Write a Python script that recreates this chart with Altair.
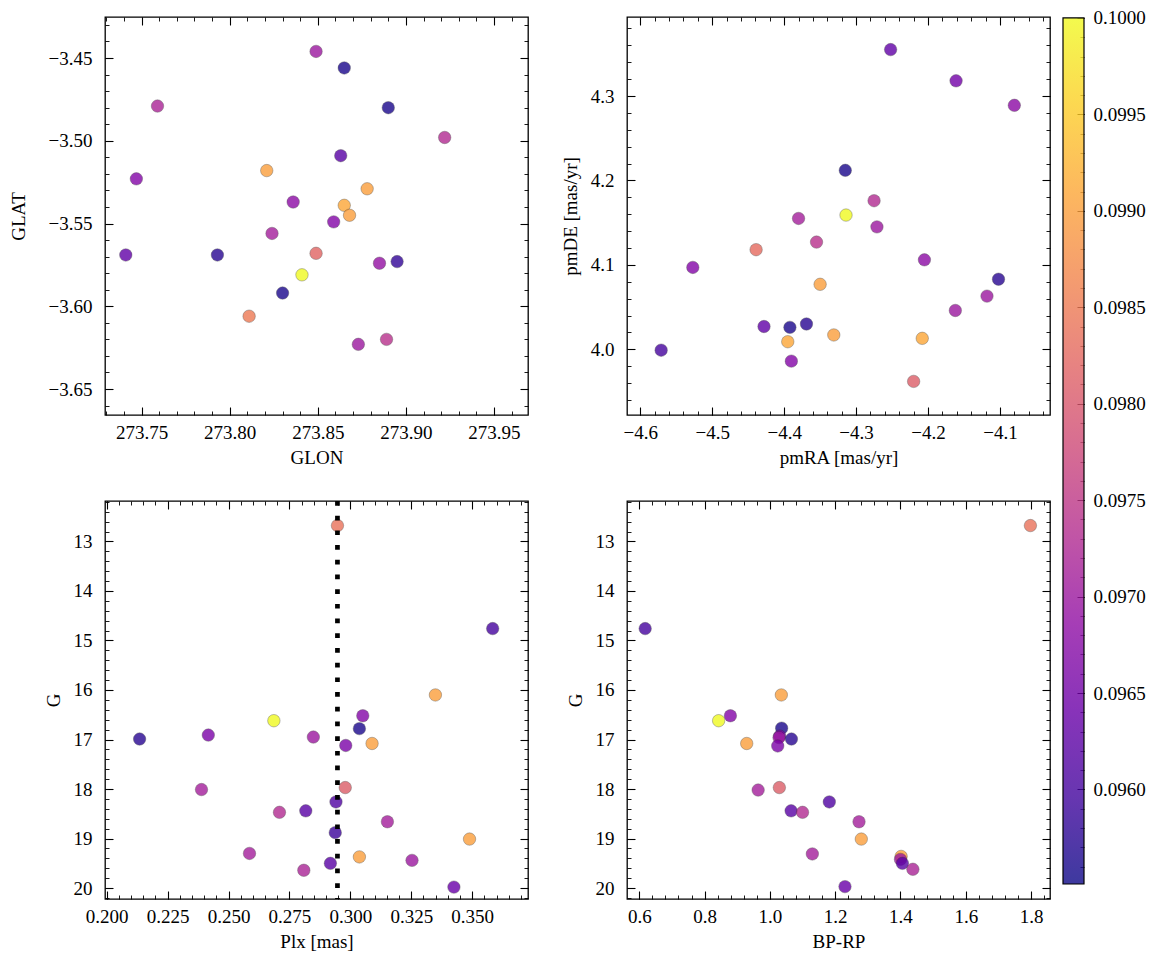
import altair as alt
import numpy as np
import pandas as pd

FONT = "Liberation Serif"
FS = 19

# ---------------- data ----------------
# top-left: sky position
glon = [273.849, 273.865, 273.759, 273.890, 273.922, 273.863, 273.747, 273.821,
        273.878, 273.836, 273.865, 273.868, 273.859, 273.824, 273.741, 273.793,
        273.849, 273.885, 273.895, 273.841, 273.830, 273.811, 273.873, 273.889]
glat = [-3.446, -3.456, -3.479, -3.480, -3.498, -3.509, -3.523, -3.518,
        -3.529, -3.537, -3.539, -3.545, -3.549, -3.556, -3.569, -3.569,
        -3.568, -3.574, -3.573, -3.581, -3.592, -3.606, -3.623, -3.620]
c_sky = [0.0970, 0.0956, 0.0972, 0.0956, 0.0973, 0.0962, 0.0967, 0.0990,
         0.0990, 0.0968, 0.0991, 0.0990, 0.0967, 0.0971, 0.0963, 0.0957,
         0.0982, 0.0969, 0.0958, 0.1000, 0.0956, 0.0985, 0.0970, 0.0974]

# top-right: proper motions
pmra = [-4.252, -4.161, -4.080, -4.315, -4.275, -4.314, -4.380, -4.271, -4.355,
        -4.439, -4.527, -4.205, -4.102, -4.350, -4.118, -4.162, -4.428, -4.392,
        -4.369, -4.331, -4.208, -4.395, -4.571, -4.390, -4.220]
pmde = [4.355, 4.318, 4.289, 4.212, 4.176, 4.159, 4.155, 4.145, 4.127,
        4.118, 4.097, 4.106, 4.083, 4.077, 4.063, 4.046, 4.027, 4.026,
        4.030, 4.017, 4.013, 4.009, 3.999, 3.986, 3.962]
c_pm = [0.0963, 0.0965, 0.0968, 0.0956, 0.0973, 0.1000, 0.0971, 0.0970, 0.0974,
        0.0983, 0.0967, 0.0968, 0.0957, 0.0990, 0.0970, 0.0970, 0.0963, 0.0956,
        0.0957, 0.0990, 0.0991, 0.0991, 0.0960, 0.0967, 0.0981]

# bottom-left: parallax vs G
plx = [0.2947, 0.3584, 0.3349, 0.3051, 0.2686, 0.3037, 0.2135, 0.2417, 0.2848,
       0.2981, 0.3089, 0.2979, 0.2389, 0.2941, 0.2817, 0.2709, 0.3152, 0.2938,
       0.3489, 0.3037, 0.2586, 0.3253, 0.2918, 0.2809, 0.3425]
g_plx = [12.68, 14.76, 16.10, 16.52, 16.62, 16.78, 16.99, 16.91, 16.95,
         17.12, 17.08, 17.97, 18.01, 18.26, 18.44, 18.47, 18.66, 18.88,
         19.01, 19.37, 19.30, 19.44, 19.50, 19.64, 19.98]
c_plx = [0.0984, 0.0960, 0.0990, 0.0967, 0.1000, 0.0956, 0.0957, 0.0966, 0.0970,
         0.0966, 0.0990, 0.0981, 0.0971, 0.0961, 0.0962, 0.0973, 0.0971, 0.0959,
         0.0990, 0.0990, 0.0971, 0.0970, 0.0962, 0.0972, 0.0964]
plx_line = 0.2947

# bottom-right: colour-magnitude diagram
bprp = [1.798, 0.618, 1.035, 0.879, 0.843, 1.036, 1.030, 1.028, 1.066, 1.024,
        0.929, 1.029, 0.964, 1.182, 1.065, 1.100, 1.273, 1.280, 1.130, 1.402,
        1.400, 1.406, 1.438, 1.230]
g_col = [12.68, 14.76, 16.10, 16.52, 16.62, 16.77, 16.93, 16.96, 16.99, 17.13,
         17.08, 17.97, 18.02, 18.26, 18.44, 18.47, 18.66, 19.01, 19.31, 19.36,
         19.42, 19.50, 19.62, 19.97]
c_col = [0.0984, 0.0960, 0.0990, 0.0967, 0.1000, 0.0956, 0.0966, 0.0970, 0.0957,
         0.0966, 0.0990, 0.0981, 0.0971, 0.0961, 0.0962, 0.0973, 0.0971, 0.0990,
         0.0971, 0.0990, 0.0970, 0.0962, 0.0972, 0.0964]

# axis ranges and tick labels
glon_dom, glat_dom = [273.7292, 273.9693], [-3.6657, -3.4252]
pmra_dom, pmde_dom = [-4.6185, -4.0304], [3.9222, 4.3936]
plx_dom, g_dom = [0.1993, 0.3729], [12.184, 20.22]
bprp_dom = [0.5623, 1.858]
c_dom = [0.09551, 0.1000]
c_view_dom = [0.09551, 0.100005]   # 1px headroom above the bar

glon_ticks = [273.75, 273.80, 273.85, 273.90, 273.95]
glat_ticks = [-3.65, -3.60, -3.55, -3.50, -3.45]
pmra_ticks = [-4.6, -4.5, -4.4, -4.3, -4.2, -4.1]
pmde_ticks = [4.0, 4.1, 4.2, 4.3]
plx_ticks = [0.200, 0.225, 0.250, 0.275, 0.300, 0.325, 0.350]
g_ticks = [13, 14, 15, 16, 17, 18, 19, 20]
bprp_ticks = [0.6, 0.8, 1.0, 1.2, 1.4, 1.6, 1.8]
c_ticks = [0.0960, 0.0965, 0.0970, 0.0975, 0.0980, 0.0985, 0.0990, 0.0995, 0.1000]

plasma_stops = ["#0d0887", "#41049d", "#6a00a8", "#8f0da4", "#b12a90", "#cc4778",
                "#e16462", "#f2844b", "#fca636", "#fcce25", "#f0f921"]

# ---------------- helpers ----------------
W, H = 423, 398
XLP, XTP, YLP, YTP = 8, 6, 13, 10
cscale = alt.Scale(scheme="plasma", domain=c_dom)


def minor(dom, step):
    lo, hi = min(dom), max(dom)
    k0 = int(np.ceil(lo / step - 1e-9))
    k1 = int(np.floor(hi / step + 1e-9))
    return [round(k * step, 7) for k in range(k0, k1 + 1)]


def ax_lab(orient, values, fmt, title, pad, tpad):
    return alt.Axis(orient=orient, values=values, format=fmt, title=title,
                    ticks=False, tickSize=0, domain=False, labelPadding=pad,
                    titlePadding=tpad, labelFlush=False, labelOverlap=False,
                    grid=False)


def ax_tick(orient, values, size, width):
    return alt.Axis(orient=orient, values=values, labels=False, ticks=True,
                    tickSize=size, tickWidth=width, tickColor="black",
                    offset=-size, domain=False, title=None, grid=False)


def panel(xs_vals, ys_vals, cs, xdom, ydom, xmaj, ymaj, xstep, ystep,
          xfmt, yfmt, xtitle, ytitle, yrev=False, vline=None, ytpad=YTP):
    df = pd.DataFrame({"x": xs_vals, "y": ys_vals, "c": cs})
    xs = alt.Scale(domain=xdom, nice=False, zero=False)
    ys = alt.Scale(domain=ydom, nice=False, zero=False, reverse=yrev)
    base = alt.Chart(df)
    pts = base.mark_circle(size=155, opacity=0.8, stroke="#333333",
                           strokeWidth=0.4).encode(
        x=alt.X("x:Q", scale=xs, axis=ax_lab("bottom", xmaj, xfmt, xtitle, XLP, XTP)),
        y=alt.Y("y:Q", scale=ys, axis=ax_lab("left", ymaj, yfmt, ytitle, YLP, ytpad)),
        color=alt.Color("c:Q", scale=cscale, legend=None),
    )
    layers = [pts]
    if vline is not None:
        layers.append(
            alt.Chart(pd.DataFrame({"v": [vline]}))
            .mark_rule(color="black", strokeWidth=4.7, strokeDash=[4.7, 10])
            .encode(x=alt.X("v:Q", scale=xs, axis=None))
        )
    xmin, ymin = minor(xdom, xstep), minor(ydom, ystep)
    for xo, yo in (("bottom", "left"), ("top", "right")):
        for xv, yv, sz, w in ((xmaj, ymaj, 8, 1.1), (xmin, ymin, 4, 0.9)):
            layers.append(base.mark_point(opacity=0).encode(
                x=alt.X("x:Q", scale=xs, axis=ax_tick(xo, xv, sz, w)),
                y=alt.Y("y:Q", scale=ys, axis=ax_tick(yo, yv, sz, w)),
            ))
    return (alt.layer(*layers)
            .resolve_axis(x="independent", y="independent")
            .properties(width=W, height=H))


tl = panel(glon, glat, c_sky, glon_dom, glat_dom, glon_ticks, glat_ticks, 0.01, 0.01,
           ".2f", ".2f", "GLON", "GLAT", ytpad=20)
tr = panel(pmra, pmde, c_pm, pmra_dom, pmde_dom, pmra_ticks, pmde_ticks, 0.02, 0.02,
           ".1f", ".1f", "pmRA [mas/yr]", "pmDE [mas/yr]")
bl = panel(plx, g_plx, c_plx, plx_dom, g_dom, plx_ticks, g_ticks, 0.005, 0.2,
           ".3f", "d", "Plx [mas]", "G", yrev=True, vline=plx_line)
br = panel(bprp, g_col, c_col, bprp_dom, g_dom, bprp_ticks, g_ticks, 0.04, 0.2,
           ".1f", "d", "BP-RP", "G", yrev=True)

# colour bar
cb_df = pd.DataFrame({"bar": ["cbar"], "lo": [c_dom[0]], "hi": [c_dom[1]]})
cbs = alt.Scale(domain=c_view_dom, nice=False, zero=False)
cbx = alt.Scale(paddingInner=0, paddingOuter=0)
grad = alt.Gradient(
    gradient="linear",
    stops=[alt.GradientStop(color=col, offset=i / (len(plasma_stops) - 1))
           for i, col in enumerate(plasma_stops)],
    x1=0, x2=0, y1=1, y2=0,
)
cb_base = alt.Chart(cb_df)
cb_layers = [
    cb_base.mark_rect(color=grad, fillOpacity=0.8, stroke="black",
                      strokeWidth=1.2).encode(
        x=alt.X("bar:N", scale=cbx, axis=None),
        y=alt.Y("lo:Q", scale=cbs, axis=ax_lab("right", c_ticks, ".4f", None, 9, 0)),
        y2="hi:Q",
    )
]
for yv, sz, w in ((c_ticks, 7, 1.0), (minor(c_dom, 0.0001), 4, 0.8)):
    cb_layers.append(cb_base.mark_point(opacity=0).encode(
        x=alt.X("bar:N", scale=cbx, axis=None),
        y=alt.Y("lo:Q", scale=cbs, axis=ax_tick("right", yv, sz, w))))
cb = (alt.layer(*cb_layers).resolve_axis(y="independent")
      .properties(width=21, height=867,
                  view=alt.ViewBackground(stroke="transparent")))

col1 = alt.vconcat(tl, bl, spacing=86, bounds="flush")
col2 = alt.vconcat(tr, br, spacing=86, bounds="flush")
right = alt.hconcat(col2, cb, spacing=9)

chart = (
    alt.hconcat(col1, right, spacing=30)
    .properties(padding={"left": 0, "top": 0, "right": 5, "bottom": 5},
                background="white")
    .configure_axis(labelFont=FONT, titleFont=FONT, labelFontSize=FS,
                    titleFontSize=FS, labelColor="black", titleColor="black",
                    titleFontWeight="normal", grid=False)
    .configure_view(stroke="black", strokeWidth=1.3)
)

chart.save("out.html", embed_options={"renderer": "svg", "actions": False})
